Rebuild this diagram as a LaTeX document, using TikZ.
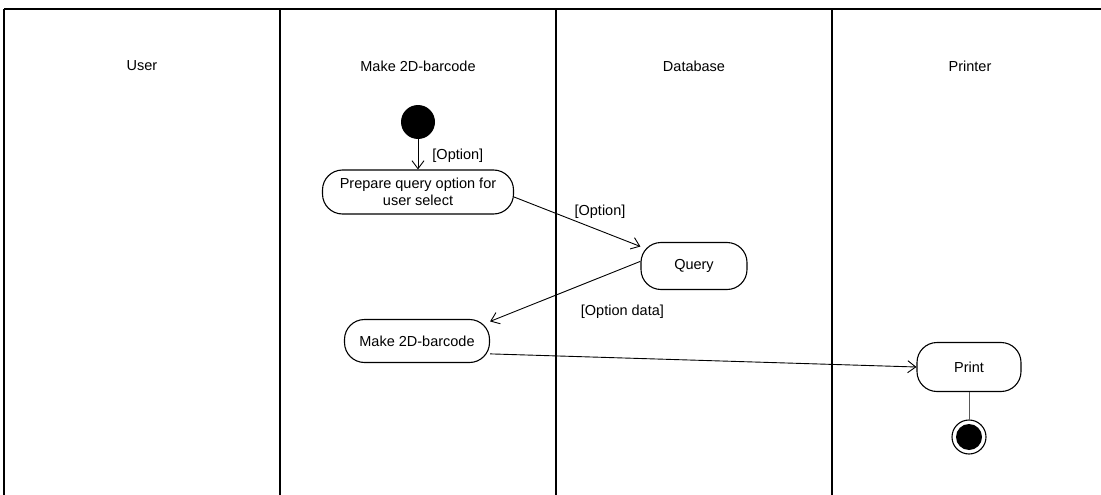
\documentclass[tikz,border=0pt]{standalone}
\usepackage{fontspec}
\setmainfont{Liberation Sans}
\usetikzlibrary{arrows.meta,positioning}

\begin{document}
\begin{tikzpicture}[x=1pt,y=-1pt,font=\fontsize{14.5}{17}\selectfont,
    action/.style={draw,line width=1.1pt,rounded corners=20pt,align=center,inner sep=2pt},
    flow/.style={-{Straight Barb[length=8pt,width=12pt]},line width=0.9pt},
    guard/.style={inner sep=1pt}]
        \useasboundingbox (0,0) rectangle (1101,495);

        % Swimlanes
        \draw[line width=1.4pt] (4,9) -- (1101,9);
        \foreach \x in {4,280,556,832}{
            \draw[line width=1.4pt] (\x,9) -- (\x,495);
        }
        \node (laneUser) at (142,66) {User};
        \node (laneMake) at (418,66) {Make 2D-barcode};
        \node (laneDb) at (694,66) {Database};
        \node (lanePrint) at (970,66) {Printer};

        % Initial and final states
        \fill (418,122) circle (17);
        \coordinate (start) at (418,139);
        \draw[line width=1.1pt] (969,437) circle (17);
        \fill (969,437) circle (13);
        \coordinate (stop) at (969,420);

        % Activities
        \node[action,minimum width=191,minimum height=44] (prep) at (418,192)
            {Prepare query option for\\user select};
        \node[action,minimum width=106,minimum height=47] (query) at (694,266) {Query};
        \node[action,minimum width=145,minimum height=43] (make) at (417,341) {Make 2D-barcode};
        \node[action,minimum width=104,minimum height=49] (print) at (969,367) {Print};

        % Transitions
        \draw[flow] (start) -- (prep.north)
            node[guard,pos=0.55,right=13pt] {[Option]};
        \draw[flow] ([yshift=-5]prep.east) -- (query.160)
            node[guard,pos=0.68,above=11pt] {[Option]};
        \draw[flow] (query.175) -- (make.15)
            node[guard,pos=0.12,below=35pt] {[Option data]};
        \draw[flow] (make.-10) -- (print.west);
        \draw[line width=0.8pt,gray!70!black] (print.south) -- (stop);
    \end{tikzpicture}
\end{document}
